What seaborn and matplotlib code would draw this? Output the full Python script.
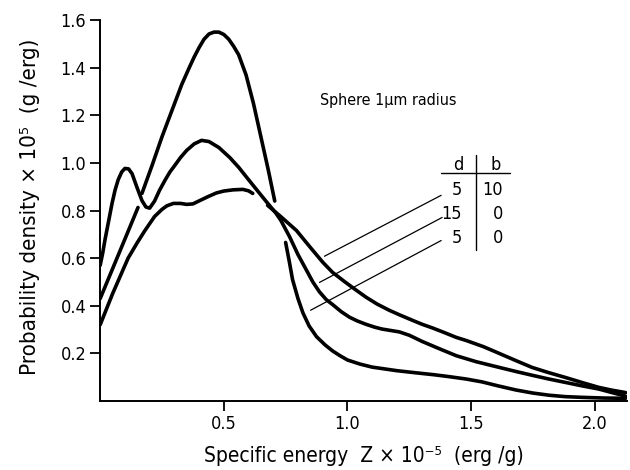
import matplotlib
matplotlib.use("Agg")
import matplotlib.pyplot as plt
import numpy as np
import pandas as pd
import seaborn as sns

NaN = np.nan

# Specific-energy spectra (Z in 1e5 erg/g, density in 1e-5 g/erg).
# NaN marks a break in the drawn pen stroke.
z_d5_b0 = [0.0, 0.05, 0.10, 0.153, NaN, 0.169, 0.21, 0.25, 0.29, 0.33, 0.36,
           0.38, 0.40, 0.42, 0.44, 0.46, 0.48, 0.50, 0.52, 0.54, 0.56, 0.59,
           0.62, 0.65, 0.68, 0.706, NaN, 0.75, 0.765, 0.778, 0.80, 0.82, 0.845,
           0.875, 0.91, 0.94, 0.97, 1.0, 1.05, 1.1, 1.2, 1.278, 1.35, 1.411,
           1.48, 1.544, 1.61, 1.681, 1.75, 1.815, 1.88, 1.948, 2.04, 2.125]
p_d5_b0 = [0.43, 0.555, 0.68, 0.813, NaN, 0.872, 0.99, 1.11, 1.22, 1.33, 1.40,
           1.445, 1.485, 1.52, 1.542, 1.55, 1.55, 1.54, 1.52, 1.49, 1.455, 1.37,
           1.25, 1.11, 0.97, 0.84, NaN, 0.666, 0.585, 0.51, 0.43, 0.37, 0.315,
           0.27, 0.235, 0.21, 0.19, 0.172, 0.155, 0.142, 0.127, 0.118, 0.11, 0.102,
           0.092, 0.08, 0.063, 0.046, 0.033, 0.024, 0.018, 0.015, 0.012, 0.011]

z_d15_b0 = [0.0, 0.01, 0.02, 0.035, 0.048, 0.06, 0.073, 0.087, 0.10, 0.115,
            0.129, 0.149, 0.169, 0.185, 0.2, 0.22, 0.24, 0.262, 0.282, 0.302,
            0.325, 0.35, 0.38, 0.41, 0.44, 0.48, 0.524, 0.56, 0.593, 0.62, 0.645,
            0.67, 0.69, 0.71, 0.73, 0.766, 0.80, 0.835, 0.86, 0.887, 0.915, 0.94,
            0.975, 1.008, 1.04, 1.075, 1.11, 1.14, 1.175, 1.21, 1.25, 1.302,
            1.37, 1.44, 1.52, 1.613, 1.68, 1.746, 1.81, 1.88, 1.95, 2.016, 2.07,
            2.125]
p_d15_b0 = [0.57, 0.62, 0.68, 0.76, 0.83, 0.885, 0.93, 0.962, 0.977, 0.975,
            0.955, 0.897, 0.842, 0.815, 0.81, 0.84, 0.885, 0.927, 0.962, 0.99,
            1.023, 1.053, 1.08, 1.095, 1.09, 1.065, 1.023, 0.982, 0.939, 0.904,
            0.872, 0.84, 0.815, 0.79, 0.76, 0.69, 0.615, 0.548, 0.50, 0.458,
            0.425, 0.405, 0.375, 0.352, 0.336, 0.322, 0.31, 0.302, 0.296, 0.29,
            0.276, 0.25, 0.22, 0.19, 0.165, 0.141, 0.124, 0.108, 0.093, 0.078,
            0.063, 0.05, 0.035, 0.02]

z_d5_b10 = [0.0, 0.05, 0.113, 0.15, 0.181, 0.22, 0.25, 0.27, 0.296, 0.325, 0.35,
            0.375, 0.403, 0.435, 0.47, 0.50, 0.537, 0.577, 0.60, 0.617, NaN,
            0.677, 0.73, 0.794, 0.85, 0.9, 0.94, 0.99, 1.036, 1.075, 1.12, 1.169,
            1.21, 1.26, 1.302, 1.343, 1.39, 1.44, 1.48, 1.55, 1.613, 1.68, 1.746,
            1.81, 1.88, 1.95, 2.016, 2.07, 2.125]
p_d5_b10 = [0.32, 0.45, 0.60, 0.665, 0.716, 0.775, 0.805, 0.82, 0.83, 0.83,
            0.826, 0.828, 0.842, 0.858, 0.874, 0.882, 0.887, 0.889, 0.883, 0.872,
            NaN, 0.822, 0.775, 0.716, 0.645, 0.583, 0.54, 0.50, 0.465, 0.436,
            0.407, 0.381, 0.362, 0.34, 0.322, 0.307, 0.288, 0.267, 0.254, 0.228,
            0.20, 0.17, 0.141, 0.12, 0.099, 0.077, 0.057, 0.045, 0.035]

# Parameter table: d and b for each curve (top tail first)
table_d = ["5", "15", "5"]
table_b = ["10", "0", "0"]

x_ticks = [0.5, 1.0, 1.5, 2.0]
y_ticks = [0.2, 0.4, 0.6, 0.8, 1.0, 1.2, 1.4, 1.6]


def pen_strokes(z, p, name):
    rows, stroke = [], 0
    for zi, pi in zip(z, p):
        if np.isnan(pi):
            stroke += 1
            continue
        rows.append({"curve": name, "stroke": f"{name}/{stroke}", "z": zi, "p": pi})
    return rows


df = pd.DataFrame(pen_strokes(z_d5_b10, p_d5_b10, "d5b10")
                  + pen_strokes(z_d15_b0, p_d15_b0, "d15b0")
                  + pen_strokes(z_d5_b0, p_d5_b0, "d5b0"))

sns.set_theme(style="ticks")
plt.rcParams["font.family"] = ["DejaVu Sans"]
plt.rcParams["font.stretch"] = "condensed"
plt.rcParams["axes.linewidth"] = 1.4
plt.rcParams["text.color"] = "black"
plt.rcParams["axes.labelcolor"] = "black"

fig = plt.figure(figsize=(6.3, 4.7), dpi=100)
ax = fig.add_axes([0.159, 0.147, 0.836, 0.81])

sns.lineplot(data=df, x="z", y="p", units="stroke", estimator=None, sort=False,
             color="black", linewidth=2.6, ax=ax, legend=False)
for line in ax.get_lines():
    line.set_solid_capstyle("round")
    line.set_solid_joinstyle("round")

ax.set_xlim(0, 2.13)
ax.set_ylim(0, 1.6)
ax.set_xticks(x_ticks)
ax.set_xticklabels([f"{v:.1f}" for v in x_ticks])
ax.set_yticks(y_ticks)
ax.set_yticklabels([f"{v:.1f}" for v in y_ticks])
ax.tick_params(direction="out", length=7, width=1.3, labelsize=13, pad=3,
               colors="black")
sns.despine(ax=ax)
for s in ("left", "bottom"):
    ax.spines[s].set_color("black")

ax.set_xlabel("Specific energy  Z × 10⁻⁵  (erg /g)", fontsize=15)
ax.set_ylabel("Probability density × 10⁵  (g /erg)", fontsize=16)
ax.xaxis.set_label_coords(0.5, -0.118)
ax.yaxis.set_label_coords(-0.115, 0.51)

ax.text(0.89, 1.264, "Sphere 1µm radius", fontsize=11.5, ha="left", va="center")

# d | b table with leader lines to the tails
ax.text(1.448, 0.99, "d", fontsize=13, ha="center", va="center")
ax.text(1.60, 0.99, "b", fontsize=13, ha="center", va="center")
ax.plot([1.379, 1.657], [0.957, 0.957], color="black", lw=1.0)
ax.plot([1.52, 1.52], [1.032, 0.633], color="black", lw=1.0)
row_y = [0.885, 0.784, 0.683]
leader_start = [(1.379, 0.864), (1.383, 0.771), (1.379, 0.674)]
leader_end = [(0.907, 0.608), (0.887, 0.498), (0.851, 0.381)]
for d, b, y, (x0, y0), (x1, y1) in zip(table_d, table_b, row_y, leader_start, leader_end):
    ax.text(1.464, y, d, fontsize=13, ha="right", va="center")
    ax.text(1.629, y, b, fontsize=13, ha="right", va="center")
    ax.plot([x0, x1], [y0, y1], color="black", lw=0.9)

fig.savefig("out.png", dpi=100)
